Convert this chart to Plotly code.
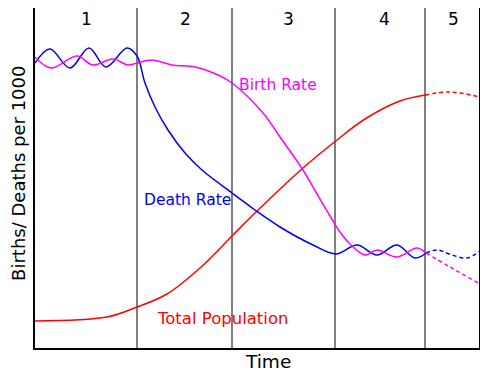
import plotly.graph_objects as go

# Time positions (arbitrary units) and rates (arbitrary units, higher = more)
death_t = [0, 15, 35, 54, 71, 92, 102, 110, 120, 133, 150, 167, 197, 220, 245, 278, 301, 322, 342, 362, 380, 391]
death_v = [285, 299, 280, 300, 281, 300, 292, 265, 241, 218, 195, 178, 155, 138, 121, 103, 94, 103, 93, 103, 90, 95]
death_t_future = [391, 402, 417, 432, 445]
death_v_future = [95, 98, 93, 90, 97]

birth_t = [0, 16, 42, 58, 78, 93, 102, 117, 137, 160, 183, 197, 228, 245, 268, 282, 295, 305, 315, 330, 342, 362, 382, 391]
birth_v = [291, 280, 292, 283, 289, 283, 285, 288, 283, 281, 273, 265, 235, 211, 178, 154, 132, 116, 104, 93, 98, 91, 100, 95]
birth_t_future = [391, 415, 445]
birth_v_future = [95, 81, 64]

pop_t = [0, 72, 102, 132, 165, 197, 220, 268, 302, 330, 365, 390]
pop_v = [27, 31, 41, 54, 80, 112, 135, 180, 208, 229, 247, 253]
pop_t_future = [390, 415, 445]
pop_v_future = [253, 256, 251]

stage_bounds = [102, 197, 300, 390]
stage_labels = ["1", "2", "3", "4", "5"]
stage_centers = [51, 150, 253, 349, 418]

BLUE = "#0000ee"
MAG = "#ff00ff"
RED = "#ff0000"
FONT = "DejaVu Sans"

fig = go.Figure()
def add(x, y, color, dash="solid"):
    fig.add_trace(go.Scatter(x=x, y=y, mode="lines",
                             line=dict(color=color, width=1.5, shape="spline", smoothing=1.0, dash=dash),
                             hoverinfo="skip", showlegend=False))

add(pop_t, pop_v, RED)
add(pop_t_future, pop_v_future, RED, "4px,3px")
add(death_t, death_v, BLUE)
add(death_t_future, death_v_future, BLUE, "4px,3px")
add(birth_t, birth_v, MAG)
add(birth_t_future, birth_v_future, MAG, "4px,3px")

shapes = []
for b in stage_bounds:
    shapes.append(dict(type="line", xref="x", yref="y", x0=b, x1=b, y0=0, y1=340,
                       line=dict(color="#808080", width=2), layer="below"))
shapes.append(dict(type="line", xref="x", yref="y", x0=445, x1=445, y0=0, y1=340,
                   line=dict(color="black", width=2)))

annotations = []
for lab, c in zip(stage_labels, stage_centers):
    annotations.append(dict(x=c, y=329, text=lab, showarrow=False, xref="x", yref="y",
                            font=dict(size=17, color="black", family=FONT)))
annotations += [
    dict(x=243, y=263, text="Birth Rate", showarrow=False, font=dict(size=15.5, color=MAG, family=FONT)),
    dict(x=152, y=148, text="Death Rate", showarrow=False, font=dict(size=15.5, color=BLUE, family=FONT)),
    dict(x=187, y=30, text="Total Population", showarrow=False, font=dict(size=16.5, color=RED, family=FONT)),
    dict(x=0.5236, y=-0.041, xref="paper", yref="paper", text="Time", showarrow=False,
         xanchor="center", yanchor="middle", font=dict(size=18.5, color="black", family=FONT)),
    dict(x=-0.036, y=0.515, xref="paper", yref="paper", text="Births/ Deaths per 1000", showarrow=False,
         textangle=-90, xanchor="center", yanchor="middle", borderpad=0,
         font=dict(size=18, color="black", family=FONT)),
]

# The page adds an 8px body margin, so the figure is 8px smaller than the window
fig.update_layout(
    width=492, height=367,
    margin=dict(l=27, r=20, t=0, b=27, autoexpand=False),
    paper_bgcolor="white", plot_bgcolor="white",
    shapes=shapes, annotations=annotations,
    xaxis=dict(range=[0, 445], showgrid=False, zeroline=False, showticklabels=False, ticks="",
               showline=True, linecolor="black", linewidth=2),
    yaxis=dict(range=[0, 340], showgrid=False, zeroline=False, showticklabels=False, ticks="",
               showline=True, linecolor="black", linewidth=2),
)

fig.write_html("out.html")
